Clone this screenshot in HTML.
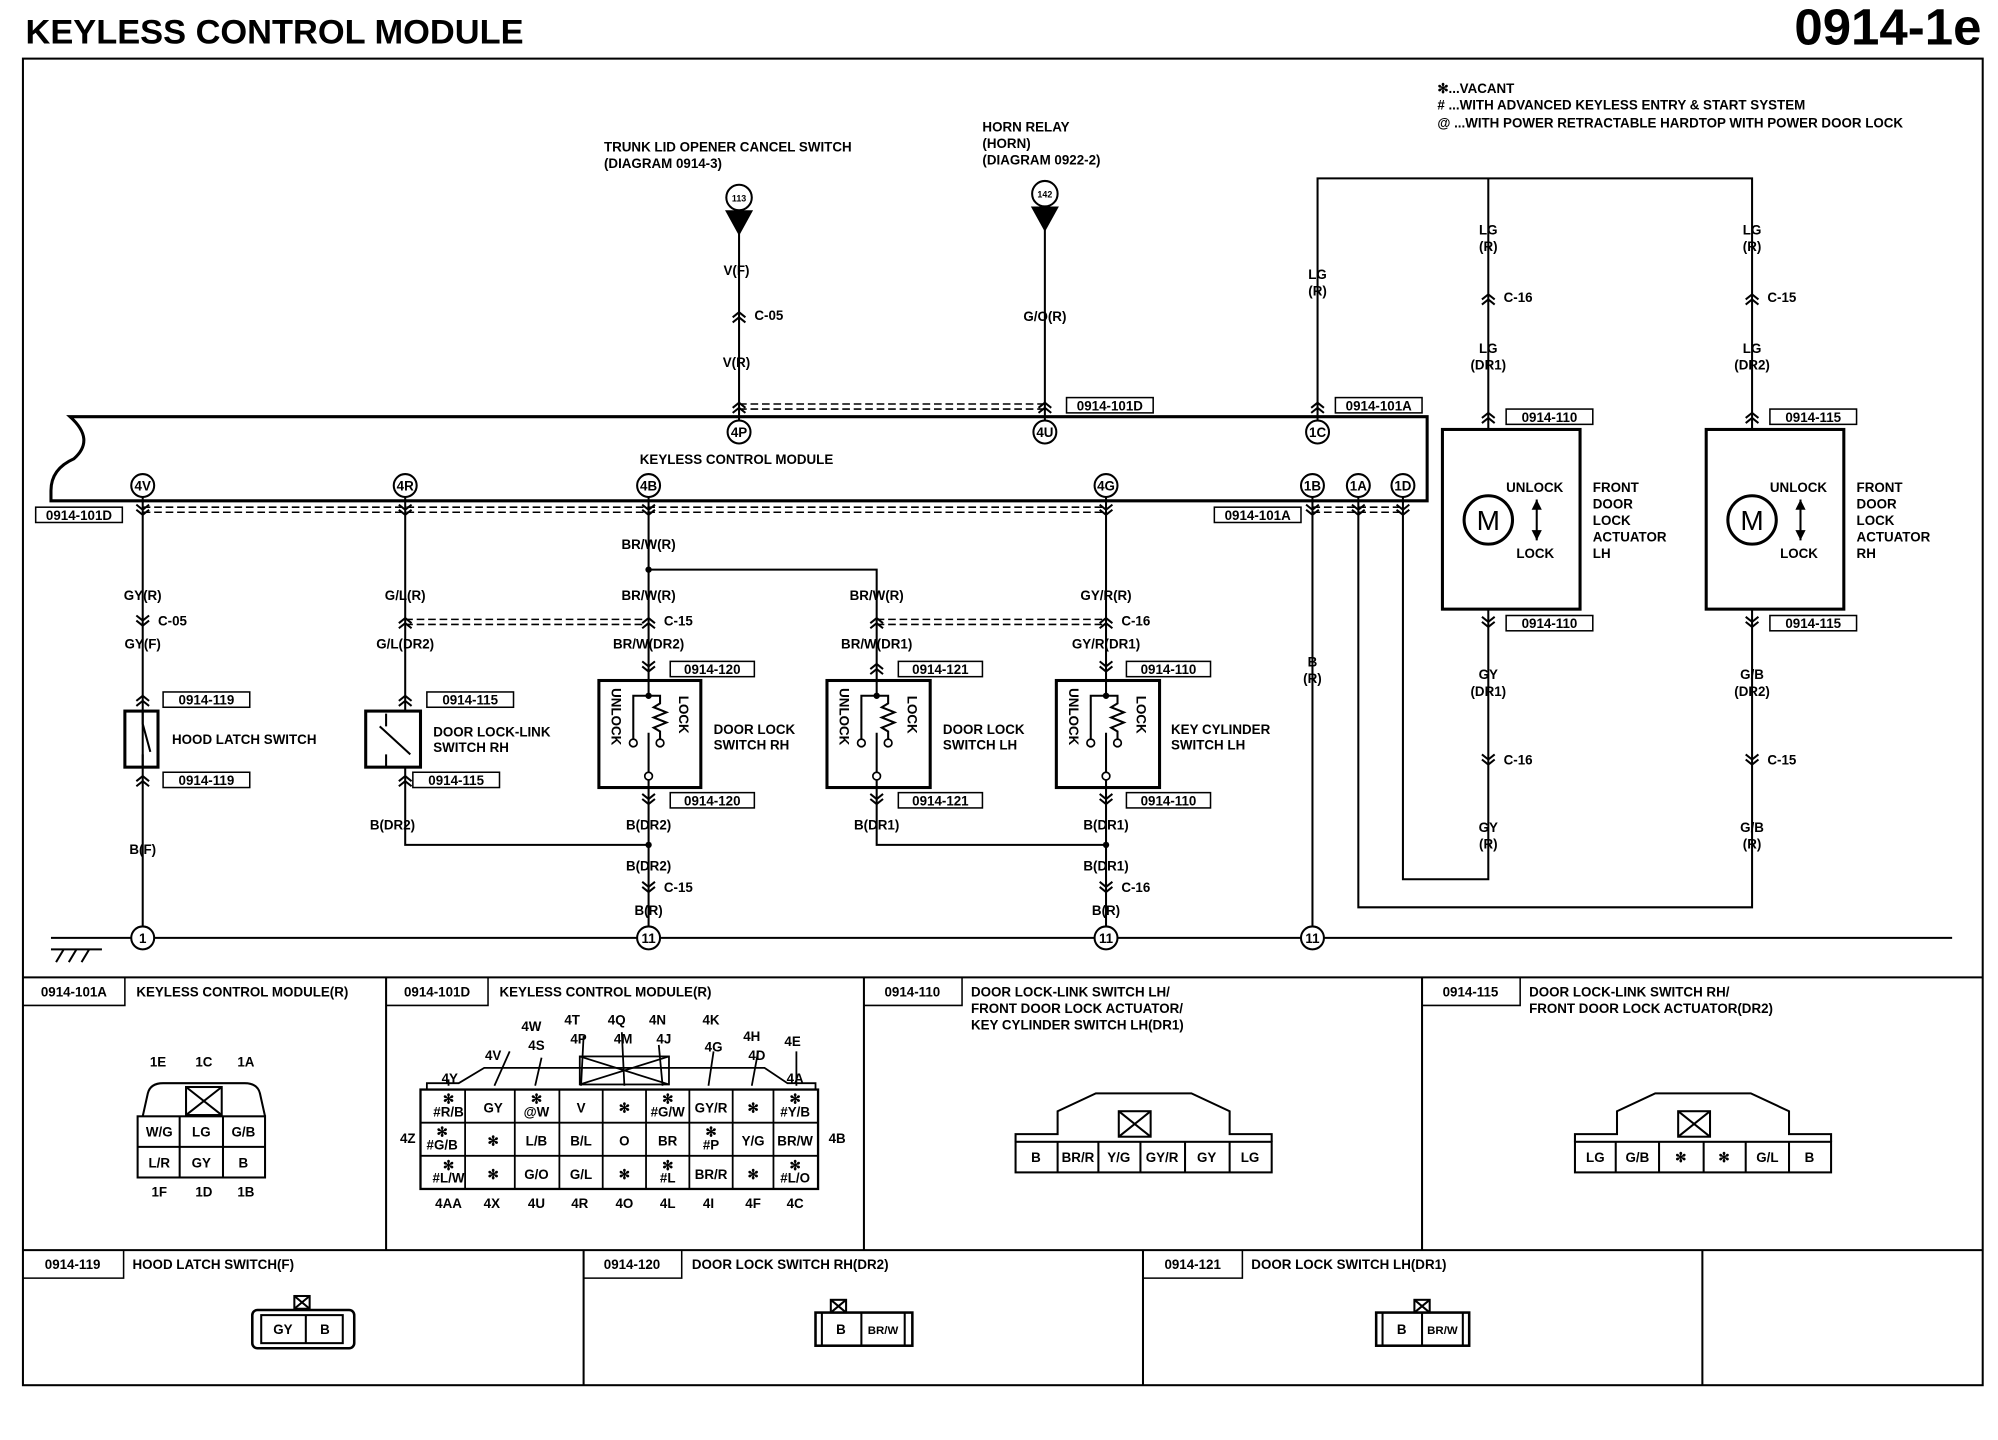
<!DOCTYPE html>
<html><head><meta charset="utf-8"><style>
html,body{margin:0;padding:0;background:#fff}
svg{display:block}
text{font-family:"Liberation Sans",Arial,sans-serif;font-size:10.5px;font-weight:bold;fill:#000}
.c{text-anchor:middle}
</style></head><body>
<svg width="1998" height="1440" viewBox="0 0 1568 1130" preserveAspectRatio="none" xmlns="http://www.w3.org/2000/svg">
<defs>
<g id="cd"><path d="M-5,-5 L0,-1 L5,-5 M-5,-1 L0,3 L5,-1" fill="none" stroke="#000" stroke-width="1.6"/></g>
<g id="cu"><path d="M-5,5 L0,1 L5,5 M-5,1 L0,-3 L5,1" fill="none" stroke="#000" stroke-width="1.6"/></g>
<g id="sw" fill="none" stroke="#000" stroke-width="1.6">
<path d="M0,-66 V-65 M-12,-54 V-44 M12,-54 V-44"/>
<path d="M0,-70 V-58 M-12,-32 V-58 H10 L8,-56 V-52 L3,-50 L13,-46 L3,-42 L13,-38 L3,-34 L8,-32 V-22 M0,-30 V12"/>
</g>
</defs>
<g stroke="#000" fill="none" stroke-width="1.6">
<rect x="18" y="46" width="1538" height="1041"/>
<line x1="18" y1="767" x2="1556" y2="767"/>
<line x1="18" y1="981" x2="1556" y2="981"/>
<line x1="303" y1="767" x2="303" y2="981"/><line x1="678" y1="767" x2="678" y2="981"/><line x1="1116" y1="767" x2="1116" y2="981"/>
<line x1="458" y1="981" x2="458" y2="1087"/><line x1="897" y1="981" x2="897" y2="1087"/><line x1="1336" y1="981" x2="1336" y2="1087"/>
<path d="M1120,327 H55 Q75,345 58,360 Q40,368 40,385 V393 H1120 Z" stroke-width="2.4"/>
<line x1="40" y1="736" x2="1532" y2="736"/>
<path d="M40,745 H80 M44,755 L50,745 M54,755 L60,745 M64,755 L70,745"/>
<g stroke-dasharray="6,3" stroke-width="1.2">
<path d="M112,398 H868 M112,402 H868"/>
<path d="M318,486 H509 M318,490 H509"/>
<path d="M688,486 H868 M688,490 H868"/>
<path d="M580,317 H820 M580,321 H820"/>
<path d="M1030,398 H1101 M1030,402 H1101"/>
</g>
<path d="M112,390 V727 M318,390 V558 M318,602 V663 H509 M509,390 V534 M509,618 V727 M509,447 H688 V534 M688,618 V663 H868 M868,390 V534 M868,618 V727"/>
<path d="M580,168 V330 M820,165 V330 M1034,330 V140 H1375 V337 M1168,140 V337 M1168,478 V690 H1101 V390 M1375,478 V712 H1066 V390 M1030,390 V727"/>
<rect x="98" y="558" width="26" height="44" stroke-width="2.4"/>
<path d="M112,558 V568 L118,590 M112,592 V602"/>
<rect x="287" y="558" width="43" height="44" stroke-width="2.4"/>
<path d="M303,570 V560 M303,592 V602 M298,570 L322,592"/>
<rect x="470" y="534" width="80" height="84" stroke-width="2.4"/>
<rect x="649" y="534" width="81" height="84" stroke-width="2.4"/>
<rect x="829" y="534" width="81" height="84" stroke-width="2.4"/>
<rect x="1132" y="337" width="108" height="141" stroke-width="2.4"/>
<rect x="1339" y="337" width="108" height="141" stroke-width="2.4"/>
<circle cx="1168" cy="408" r="19" stroke-width="2.4"/><circle cx="1375" cy="408" r="19" stroke-width="2.4"/>
<path d="M1206,392 V424 M1413,392 V424"/>
<g stroke-width="1.2">
<rect x="28" y="398" width="68" height="12"/><rect x="953" y="398" width="68" height="12"/>
<rect x="837" y="312" width="68" height="12"/><rect x="1048" y="312" width="68" height="12"/>
<rect x="128" y="543" width="68" height="12"/><rect x="128" y="606" width="68" height="12"/>
<rect x="335" y="543" width="68" height="12"/><rect x="324" y="606" width="68" height="12"/>
<rect x="526" y="519" width="66" height="12"/><rect x="526" y="622" width="66" height="12"/>
<rect x="705" y="519" width="66" height="12"/><rect x="705" y="622" width="66" height="12"/>
<rect x="884" y="519" width="66" height="12"/><rect x="884" y="622" width="66" height="12"/>
<rect x="1182" y="321" width="68" height="12"/><rect x="1182" y="483" width="68" height="12"/>
<rect x="1389" y="321" width="68" height="12"/><rect x="1389" y="483" width="68" height="12"/>
<path d="M98,767 V789 H18 M383,767 V789 H303 M755,767 V789 H678 M1193,767 V789 H1116"/>
<path d="M97,981 V1003 H18 M535,981 V1003 H458 M975,981 V1003 H897"/>
</g>
</g>
<!-- switch internals -->
<g fill="none" stroke="#000" stroke-width="1.6">
<path d="M509,534 V546 M497,580 V546 H509 H518 V552 L513,555 L523,559 L513,563 L523,567 L513,571 L518,574 V580 M509,608 V575 M509,612 V618"/>
<path d="M688,534 V546 M676,580 V546 H688 H697 V552 L692,555 L702,559 L692,563 L702,567 L692,571 L697,574 V580 M688,608 V575 M688,612 V618"/>
<path d="M868,534 V546 M856,580 V546 H868 H877 V552 L872,555 L882,559 L872,563 L882,567 L872,571 L877,574 V580 M868,608 V575 M868,612 V618"/>
</g>
<g fill="#fff" stroke="#000" stroke-width="1.3">
<circle cx="497" cy="583" r="3"/><circle cx="518" cy="583" r="3"/><circle cx="509" cy="609" r="3"/>
<circle cx="676" cy="583" r="3"/><circle cx="697" cy="583" r="3"/><circle cx="688" cy="609" r="3"/>
<circle cx="856" cy="583" r="3"/><circle cx="877" cy="583" r="3"/><circle cx="868" cy="609" r="3"/>
</g>
<g fill="#000">
<circle cx="509" cy="546" r="2.5"/><circle cx="688" cy="546" r="2.5"/><circle cx="868" cy="546" r="2.5"/>
<polygon points="569,165 591,165 580,185"/><polygon points="809,162 831,162 820,182"/>
<polygon points="1202,400 1206,392 1210,400"/><polygon points="1202,416 1206,424 1210,416"/>
<polygon points="1409,400 1413,392 1417,400"/><polygon points="1409,416 1413,424 1417,416"/>
<circle cx="509" cy="447" r="2.5"/><circle cx="509" cy="663" r="2.5"/><circle cx="868" cy="663" r="2.5"/>
</g>
<g>
<use href="#cd" x="112" y="401"/><use href="#cd" x="318" y="401"/><use href="#cd" x="509" y="401"/><use href="#cd" x="868" y="401"/>
<use href="#cd" x="1030" y="401"/><use href="#cd" x="1066" y="401"/><use href="#cd" x="1101" y="401"/>
<use href="#cd" x="112" y="488"/><use href="#cu" x="318" y="488"/><use href="#cu" x="509" y="488"/><use href="#cu" x="688" y="488"/><use href="#cu" x="868" y="488"/>
<use href="#cu" x="112" y="549"/><use href="#cu" x="112" y="612"/><use href="#cu" x="318" y="549"/><use href="#cu" x="318" y="612"/>
<use href="#cd" x="509" y="524"/><use href="#cd" x="509" y="628"/><use href="#cu" x="688" y="524"/><use href="#cd" x="688" y="628"/>
<use href="#cd" x="868" y="524"/><use href="#cd" x="868" y="628"/>
<use href="#cd" x="509" y="697"/><use href="#cd" x="868" y="697"/>
<use href="#cu" x="580" y="248"/><use href="#cu" x="580" y="319"/><use href="#cu" x="820" y="319"/><use href="#cu" x="1034" y="319"/>
<use href="#cu" x="1168" y="234"/><use href="#cu" x="1168" y="327"/><use href="#cd" x="1168" y="489"/><use href="#cd" x="1168" y="597"/>
<use href="#cu" x="1375" y="234"/><use href="#cu" x="1375" y="327"/><use href="#cd" x="1375" y="489"/><use href="#cd" x="1375" y="597"/>
</g>
<g stroke="#000" stroke-width="1.6" fill="#fff">
<circle cx="112" cy="381" r="9"/><circle cx="318" cy="381" r="9"/><circle cx="509" cy="381" r="9"/><circle cx="868" cy="381" r="9"/>
<circle cx="1030" cy="381" r="9"/><circle cx="1066" cy="381" r="9"/><circle cx="1101" cy="381" r="9"/>
<circle cx="580" cy="339" r="9"/><circle cx="820" cy="339" r="9"/><circle cx="1034" cy="339" r="9"/>
<circle cx="580" cy="155" r="10"/><circle cx="820" cy="152" r="10"/>
<circle cx="112" cy="736" r="9"/><circle cx="509" cy="736" r="9"/><circle cx="868" cy="736" r="9"/><circle cx="1030" cy="736" r="9"/>
</g>
<g style="font-size:9.5px">
<text x="112" y="385" class="c">4V</text><text x="318" y="385" class="c">4R</text><text x="509" y="385" class="c">4B</text><text x="868" y="385" class="c">4G</text>
<text x="1030" y="385" class="c">1B</text><text x="1066" y="385" class="c">1A</text><text x="1101" y="385" class="c">1D</text>
<text x="580" y="343" class="c">4P</text><text x="820" y="343" class="c">4U</text><text x="1034" y="343" class="c">1C</text>
<text x="580" y="158" class="c" style="font-size:7px">113</text><text x="820" y="155" class="c" style="font-size:7px">142</text>
<text x="112" y="740" class="c">1</text><text x="509" y="740" class="c">11</text><text x="868" y="740" class="c">11</text><text x="1030" y="740" class="c">11</text>
</g>
<text x="20" y="34" style="font-size:27px">KEYLESS CONTROL MODULE</text>
<text x="1555" y="35" style="font-size:40px;text-anchor:end">0914-1e</text>
<text x="1128" y="73">✻...VACANT</text>
<text x="1128" y="86"># ...WITH ADVANCED KEYLESS ENTRY &amp; START SYSTEM</text>
<text x="1128" y="100">@ ...WITH POWER RETRACTABLE HARDTOP WITH POWER DOOR LOCK</text>
<text x="474" y="119">TRUNK LID OPENER CANCEL SWITCH</text><text x="474" y="132">(DIAGRAM 0914-3)</text>
<text x="771" y="103">HORN RELAY</text><text x="771" y="116">(HORN)</text><text x="771" y="129">(DIAGRAM 0922-2)</text>
<text x="578" y="364" class="c">KEYLESS CONTROL MODULE</text>
<g>
<text x="578" y="216" class="c">V(F)</text><text x="592" y="251">C-05</text><text x="578" y="288" class="c">V(R)</text>
<text x="820" y="252" class="c">G/O(R)</text>
<text x="1034" y="219" class="c">LG</text><text x="1034" y="232" class="c">(R)</text>
<text x="1168" y="184" class="c">LG</text><text x="1168" y="197" class="c">(R)</text><text x="1180" y="237">C-16</text>
<text x="1168" y="277" class="c">LG</text><text x="1168" y="290" class="c">(DR1)</text>
<text x="1375" y="184" class="c">LG</text><text x="1375" y="197" class="c">(R)</text><text x="1387" y="237">C-15</text>
<text x="1375" y="277" class="c">LG</text><text x="1375" y="290" class="c">(DR2)</text>
<text x="1168" y="533" class="c">GY</text><text x="1168" y="546" class="c">(DR1)</text><text x="1180" y="600">C-16</text>
<text x="1168" y="653" class="c">GY</text><text x="1168" y="666" class="c">(R)</text>
<text x="1375" y="533" class="c">G/B</text><text x="1375" y="546" class="c">(DR2)</text><text x="1387" y="600">C-15</text>
<text x="1375" y="653" class="c">G/B</text><text x="1375" y="666" class="c">(R)</text>
<text x="1030" y="523" class="c">B</text><text x="1030" y="536" class="c">(R)</text>
<text x="112" y="471" class="c">GY(R)</text><text x="124" y="491">C-05</text><text x="112" y="509" class="c">GY(F)</text><text x="112" y="670" class="c">B(F)</text>
<text x="318" y="471" class="c">G/L(R)</text><text x="318" y="509" class="c">G/L(DR2)</text><text x="308" y="651" class="c">B(DR2)</text>
<text x="509" y="431" class="c">BR/W(R)</text><text x="509" y="471" class="c">BR/W(R)</text><text x="521" y="491">C-15</text><text x="509" y="509" class="c">BR/W(DR2)</text>
<text x="509" y="651" class="c">B(DR2)</text><text x="509" y="683" class="c">B(DR2)</text><text x="521" y="700">C-15</text><text x="509" y="718" class="c">B(R)</text>
<text x="688" y="471" class="c">BR/W(R)</text><text x="688" y="509" class="c">BR/W(DR1)</text><text x="688" y="651" class="c">B(DR1)</text>
<text x="868" y="471" class="c">GY/R(R)</text><text x="880" y="491">C-16</text><text x="868" y="509" class="c">GY/R(DR1)</text>
<text x="868" y="651" class="c">B(DR1)</text><text x="868" y="683" class="c">B(DR1)</text><text x="880" y="700">C-16</text><text x="868" y="718" class="c">B(R)</text>
</g>
<g style="font-size:9.5px">
<text x="62" y="408" class="c">0914-101D</text><text x="987" y="408" class="c">0914-101A</text>
<text x="871" y="322" class="c">0914-101D</text><text x="1082" y="322" class="c">0914-101A</text>
<text x="162" y="553" class="c">0914-119</text><text x="162" y="616" class="c">0914-119</text>
<text x="369" y="553" class="c">0914-115</text><text x="358" y="616" class="c">0914-115</text>
<text x="559" y="529" class="c">0914-120</text><text x="559" y="632" class="c">0914-120</text>
<text x="738" y="529" class="c">0914-121</text><text x="738" y="632" class="c">0914-121</text>
<text x="917" y="529" class="c">0914-110</text><text x="917" y="632" class="c">0914-110</text>
<text x="1216" y="331" class="c">0914-110</text><text x="1216" y="493" class="c">0914-110</text>
<text x="1423" y="331" class="c">0914-115</text><text x="1423" y="493" class="c">0914-115</text>
</g>
<text x="135" y="584">HOOD LATCH SWITCH</text>
<text x="340" y="578">DOOR LOCK-LINK</text><text x="340" y="590">SWITCH RH</text>
<text x="560" y="576">DOOR LOCK</text><text x="560" y="588">SWITCH RH</text>
<text x="740" y="576">DOOR LOCK</text><text x="740" y="588">SWITCH LH</text>
<text x="919" y="576">KEY CYLINDER</text><text x="919" y="588">SWITCH LH</text>
<g style="font-size:8.5px">
<text transform="translate(480,540) rotate(90)">UNLOCK</text><text transform="translate(533,546) rotate(90)">LOCK</text>
<text transform="translate(659,540) rotate(90)">UNLOCK</text><text transform="translate(712,546) rotate(90)">LOCK</text>
<text transform="translate(839,540) rotate(90)">UNLOCK</text><text transform="translate(892,546) rotate(90)">LOCK</text>
</g>
<text x="1168" y="416" class="c" style="font-size:22px;font-weight:normal">M</text><text x="1375" y="416" class="c" style="font-size:22px;font-weight:normal">M</text>
<text x="1182" y="386">UNLOCK</text><text x="1190" y="438">LOCK</text>
<text x="1389" y="386">UNLOCK</text><text x="1397" y="438">LOCK</text>
<text x="1250" y="386">FRONT</text><text x="1250" y="399">DOOR</text><text x="1250" y="412">LOCK</text><text x="1250" y="425">ACTUATOR</text><text x="1250" y="438">LH</text>
<text x="1457" y="386">FRONT</text><text x="1457" y="399">DOOR</text><text x="1457" y="412">LOCK</text><text x="1457" y="425">ACTUATOR</text><text x="1457" y="438">RH</text>
<g style="font-size:9.5px">
<text x="58" y="782" class="c">0914-101A</text><text x="343" y="782" class="c">0914-101D</text>
<text x="716" y="782" class="c">0914-110</text><text x="1154" y="782" class="c">0914-115</text>
<text x="57" y="996" class="c">0914-119</text><text x="496" y="996" class="c">0914-120</text><text x="936" y="996" class="c">0914-121</text>
</g>
<text x="107" y="782">KEYLESS CONTROL MODULE(R)</text>
<text x="392" y="782">KEYLESS CONTROL MODULE(R)</text>
<text x="762" y="782">DOOR LOCK-LINK SWITCH LH/</text><text x="762" y="795">FRONT DOOR LOCK ACTUATOR/</text><text x="762" y="808">KEY CYLINDER SWITCH LH(DR1)</text>
<text x="1200" y="782">DOOR LOCK-LINK SWITCH RH/</text><text x="1200" y="795">FRONT DOOR LOCK ACTUATOR(DR2)</text>
<text x="104" y="996">HOOD LATCH SWITCH(F)</text>
<text x="543" y="996">DOOR LOCK SWITCH RH(DR2)</text>
<text x="982" y="996">DOOR LOCK SWITCH LH(DR1)</text>
<g stroke="#000" fill="none" stroke-width="1.6">
<path d="M112,876 L116,858 Q118,850 128,850 H192 Q202,850 204,858 L208,876"/>
<rect x="146" y="853" width="28" height="22"/><path d="M146,853 L174,875 M174,853 L146,875"/>
<rect x="108" y="876" width="100" height="48"/><path d="M108,900 H208 M141,876 V924 M175,876 V924"/>
</g>
<g>
<text x="124" y="837" class="c">1E</text><text x="160" y="837" class="c">1C</text><text x="193" y="837" class="c">1A</text>
<text x="125" y="892" class="c">W/G</text><text x="158" y="892" class="c">LG</text><text x="191" y="892" class="c">G/B</text>
<text x="125" y="916" class="c">L/R</text><text x="158" y="916" class="c">GY</text><text x="191" y="916" class="c">B</text>
<text x="125" y="939" class="c">1F</text><text x="160" y="939" class="c">1D</text><text x="193" y="939" class="c">1B</text>
</g>
<g stroke="#000" fill="none" stroke-width="1.4">
<path d="M335,855 V850 H360 L380,838 H600 L618,850 H640 V855"/>
<rect x="455" y="829" width="70" height="22"/><path d="M455,829 L525,851 M525,829 L455,851"/>
<rect x="330" y="855" width="312" height="78" stroke-width="1.8"/>
<path d="M330,881 H642 M330,907 H642 M365,855 V933 M404,855 V933 M439,855 V933 M473,855 V933 M507,855 V933 M541,855 V933 M575,855 V933 M607,855 V933"/>
<path d="M352,852 V847 M388,852 L400,825 M420,852 L425,830 M456,852 L458,813 M490,852 L488,810 M520,852 L517,820 M556,852 L560,825 M590,852 L595,825 M625,852 L625,825"/>
</g>
<g style="font-size:10px">
<text x="353" y="850" class="c">4Y</text><text x="387" y="832" class="c">4V</text><text x="417" y="809" class="c">4W</text><text x="421" y="824" class="c">4S</text>
<text x="449" y="804" class="c">4T</text><text x="454" y="819" class="c">4P</text><text x="484" y="804" class="c">4Q</text><text x="489" y="819" class="c">4M</text>
<text x="516" y="804" class="c">4N</text><text x="521" y="819" class="c">4J</text><text x="558" y="804" class="c">4K</text><text x="560" y="825" class="c">4G</text>
<text x="590" y="817" class="c">4H</text><text x="594" y="832" class="c">4D</text><text x="622" y="821" class="c">4E</text><text x="624" y="850" class="c">4A</text>
<text x="320" y="897" class="c">4Z</text><text x="657" y="897" class="c">4B</text>
<text x="352" y="948" class="c">4AA</text><text x="386" y="948" class="c">4X</text><text x="421" y="948" class="c">4U</text><text x="455" y="948" class="c">4R</text>
<text x="490" y="948" class="c">4O</text><text x="524" y="948" class="c">4L</text><text x="556" y="948" class="c">4I</text><text x="591" y="948" class="c">4F</text><text x="624" y="948" class="c">4C</text>
</g>
<g style="font-size:8px">
<text x="352" y="866" class="c">✻</text><text x="352" y="876" class="c">#R/B</text>
<text x="387" y="873" class="c" style="font-size:10.5px">GY</text>
<text x="421" y="866" class="c">✻</text><text x="421" y="876" class="c">@W</text>
<text x="456" y="873" class="c" style="font-size:10.5px">V</text><text x="490" y="873" class="c" style="font-size:10.5px">✻</text>
<text x="524" y="866" class="c">✻</text><text x="524" y="876" class="c">#G/W</text>
<text x="558" y="873" class="c">GY/R</text><text x="591" y="873" class="c" style="font-size:10.5px">✻</text>
<text x="624" y="866" class="c">✻</text><text x="624" y="876" class="c">#Y/B</text>
<text x="347" y="892" class="c">✻</text><text x="347" y="902" class="c">#G/B</text>
<text x="387" y="899" class="c" style="font-size:10.5px">✻</text>
<text x="421" y="899" class="c" style="font-size:10.5px">L/B</text><text x="456" y="899" class="c" style="font-size:10.5px">B/L</text>
<text x="490" y="899" class="c" style="font-size:10.5px">O</text><text x="524" y="899" class="c" style="font-size:10.5px">BR</text>
<text x="558" y="892" class="c">✻</text><text x="558" y="902" class="c">#P</text>
<text x="591" y="899" class="c" style="font-size:10.5px">Y/G</text><text x="624" y="899" class="c">BR/W</text>
<text x="352" y="918" class="c">✻</text><text x="352" y="928" class="c">#L/W</text>
<text x="387" y="925" class="c" style="font-size:10.5px">✻</text>
<text x="421" y="925" class="c" style="font-size:10.5px">G/O</text><text x="456" y="925" class="c" style="font-size:10.5px">G/L</text>
<text x="490" y="925" class="c" style="font-size:10.5px">✻</text>
<text x="524" y="918" class="c">✻</text><text x="524" y="928" class="c">#L</text>
<text x="558" y="925" class="c">BR/R</text><text x="591" y="925" class="c" style="font-size:10.5px">✻</text>
<text x="624" y="918" class="c">✻</text><text x="624" y="928" class="c">#L/O</text>
</g>
<g stroke="#000" fill="none" stroke-width="1.6">
<path d="M797,896 V890 H830 V872 L860,858 H935 L965,872 V890 H998 V896"/>
<rect x="878" y="872" width="25" height="20"/><path d="M878,872 L903,892 M903,872 L878,892"/>
<rect x="797" y="896" width="201" height="24"/><path d="M830,896 V920 M862,896 V920 M895,896 V920 M930,896 V920 M965,896 V920"/>
<path d="M1236,896 V890 H1269 V872 L1299,858 H1374 L1404,872 V890 H1437 V896"/>
<rect x="1317" y="872" width="25" height="20"/><path d="M1317,872 L1342,892 M1342,872 L1317,892"/>
<rect x="1236" y="896" width="201" height="24"/><path d="M1268,896 V920 M1302,896 V920 M1337,896 V920 M1370,896 V920 M1404,896 V920"/>
</g>
<g style="font-size:10px">
<text x="813" y="912" class="c">B</text><text x="846" y="912" class="c">BR/R</text><text x="878" y="912" class="c">Y/G</text>
<text x="912" y="912" class="c">GY/R</text><text x="947" y="912" class="c">GY</text><text x="981" y="912" class="c">LG</text>
<text x="1252" y="912" class="c">LG</text><text x="1285" y="912" class="c">G/B</text><text x="1319" y="912" class="c">✻</text>
<text x="1353" y="912" class="c">✻</text><text x="1387" y="912" class="c">G/L</text><text x="1420" y="912" class="c">B</text>
</g>
<g stroke="#000" fill="none" stroke-width="1.6">
<rect x="198" y="1028" width="80" height="30" rx="4" stroke-width="2"/>
<rect x="205" y="1032" width="64" height="22"/><path d="M240,1032 V1054"/>
<rect x="231" y="1017" width="12" height="10"/><path d="M231,1017 L243,1027 M243,1017 L231,1027"/>
<rect x="640" y="1030" width="76" height="26" stroke-width="2"/><path d="M645,1030 V1056 M676,1030 V1056 M710,1030 V1056"/>
<rect x="652" y="1020" width="12" height="10"/><path d="M652,1020 L664,1030 M664,1020 L652,1030"/>
<rect x="1080" y="1030" width="73" height="26" stroke-width="2"/><path d="M1085,1030 V1056 M1116,1030 V1056 M1148,1030 V1056"/>
<rect x="1110" y="1020" width="12" height="10"/><path d="M1110,1020 L1122,1030 M1122,1020 L1110,1030"/>
</g>
<text x="222" y="1047" class="c">GY</text><text x="255" y="1047" class="c">B</text>
<text x="660" y="1047" class="c">B</text><text x="693" y="1047" class="c" style="font-size:9px">BR/W</text>
<text x="1100" y="1047" class="c">B</text><text x="1132" y="1047" class="c" style="font-size:9px">BR/W</text>
</svg>
</body></html>
